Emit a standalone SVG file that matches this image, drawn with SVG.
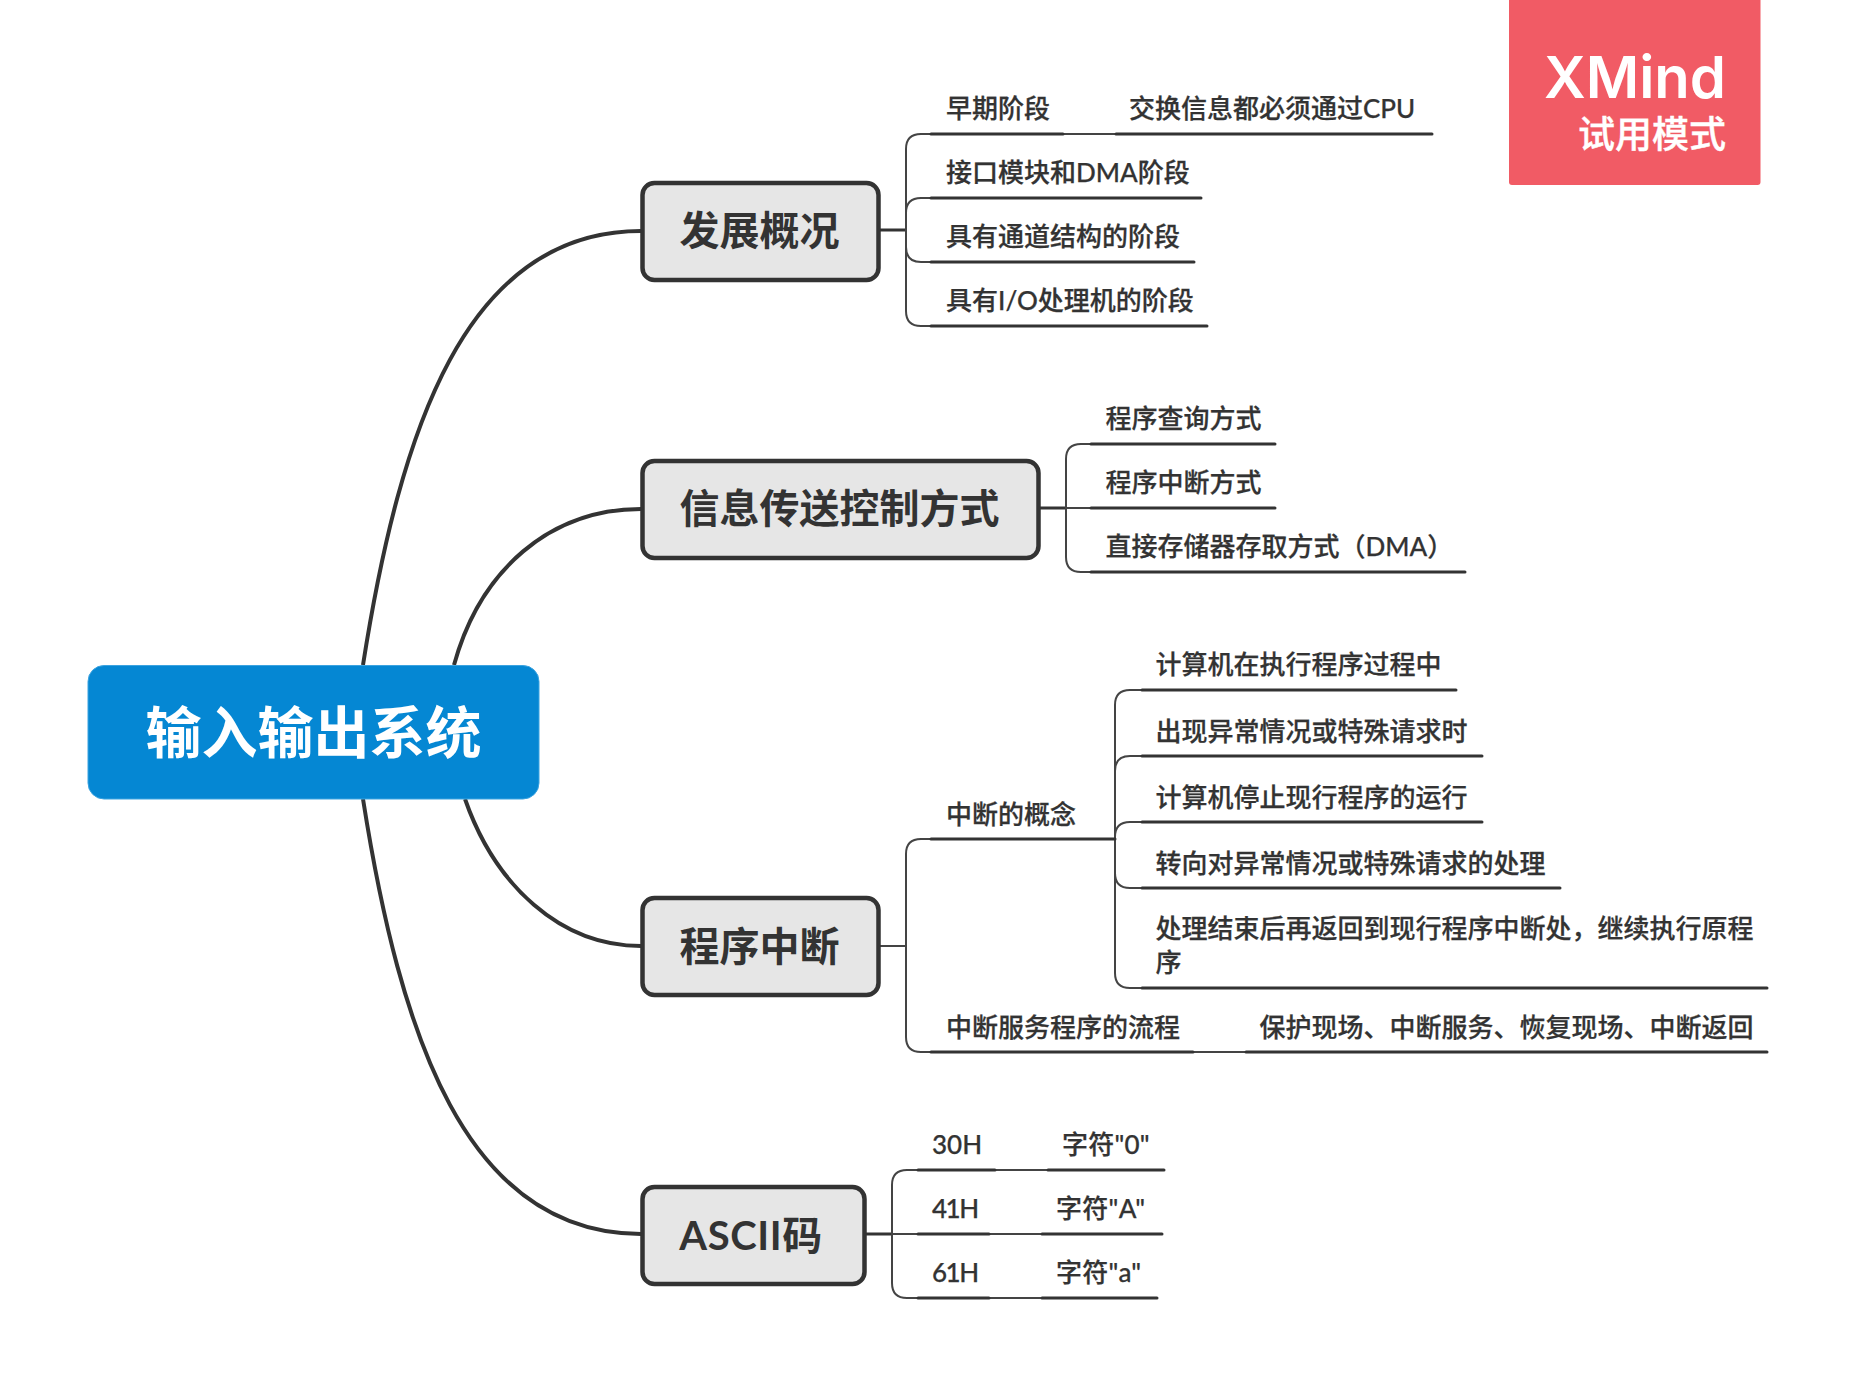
<svg xmlns="http://www.w3.org/2000/svg" width="1855" height="1387" viewBox="0 0 1855 1387">
<style>
text{font-family:"Lato","Noto Sans CJK SC",sans-serif;fill:#333;white-space:pre}
.t{font-size:26px;font-weight:500;stroke:#333;stroke-width:.25px}
.m{font-size:40px;font-weight:700;text-anchor:middle}
.box{fill:#e6e6e6;stroke:#333;stroke-width:4.500px}
.curve{fill:none;stroke:#333;stroke-width:4}
.br{fill:none;stroke:#444;stroke-width:2}
.stem{fill:none;stroke:#333;stroke-width:3}
.ul{fill:none;stroke:#333;stroke-width:3;stroke-linecap:round}
</style>
<rect width="1855" height="1387" fill="#fff"/>
<g id="connectors">
<path class="curve" d="M363 665C400 430 465 231 641 231"/>
<path class="curve" d="M454 665C480 570 550 509 641 509"/>
<path class="curve" d="M465 799C495 885 560 946 641 946"/>
<path class="curve" d="M363 799C400 1034 465 1234 641 1234"/>
<path class="stem" d="M880 230H906M1040 508H1066M866 1234H892"/>
<path class="br" d="M880 946H906"/>
<path class="br" d="M931 134H921Q906 134 906 149V311Q906 326 921 326H931M906 230V213Q906 198 921 198H931M906 230V247Q906 262 921 262H931"/>
<path class="br" d="M1091 444H1081Q1066 444 1066 459V557Q1066 572 1081 572H1091M1066 508H1091"/>
<path class="br" d="M931 839H921Q906 839 906 854V1037Q906 1052 921 1052H931"/>
<path class="br" d="M1142 690H1130Q1115 690 1115 705V973Q1115 988 1130 988H1142M1115 839V771Q1115 756 1130 756H1142M1115 839V837Q1115 822 1130 822H1142M1115 839V873Q1115 888 1130 888H1142"/>
<path class="br" d="M918 1170H907Q892 1170 892 1185V1283Q892 1298 907 1298H918M892 1234H918"/>
<path class="br" d="M1063 134H1116M1193 1052H1246M995 1170H1048M989 1234H1042M989 1298H1042"/>
<path class="ul" d="M1116 134H1432M1246 1052H1767M1048 1170H1164M1042 1234H1162M1042 1298H1157"/>
</g>
<g id="root"><rect x="88" y="665.500" width="451" height="133.500" rx="16" fill="#0587d3" stroke="#3ba3e0" stroke-width="1"/><text x="313.500" y="753" style="font-size:56px;font-weight:700;text-anchor:middle;fill:#fff">输入输出系统</text></g>
<g id="n1"><rect class="box" x="642.500" y="183" width="236" height="97" rx="12"/><text class="m" x="759.500" y="245">发展概况</text></g>
<g id="n1a"><path class="ul" d="M931 134H1063"/><text class="t" x="946" y="118">早期阶段</text></g>
<g id="n1a1"><text class="t" x="1129" y="118">交换信息都必须通过CPU</text></g>
<g id="n1b"><path class="ul" d="M931 198H1201"/><text class="t" x="946" y="182">接口模块和DMA阶段</text></g>
<g id="n1c"><path class="ul" d="M931 262H1194"/><text class="t" x="946" y="246">具有通道结构的阶段</text></g>
<g id="n1d"><path class="ul" d="M931 326H1207"/><text class="t" x="946" y="310">具有I/O处理机的阶段</text></g>
<g id="n2"><rect class="box" x="642.500" y="461" width="396" height="97" rx="12"/><text class="m" x="839.500" y="523">信息传送控制方式</text></g>
<g id="n2a"><path class="ul" d="M1091 444H1275"/><text class="t" x="1105.500" y="428">程序查询方式</text></g>
<g id="n2b"><path class="ul" d="M1091 508H1275"/><text class="t" x="1105.500" y="492">程序中断方式</text></g>
<g id="n2c"><path class="ul" d="M1091 572H1465"/><text class="t" x="1105.500" y="556">直接存储器存取方式（DMA）</text></g>
<g id="n3"><rect class="box" x="642.500" y="898" width="236" height="97" rx="12"/><text class="m" x="759.500" y="961">程序中断</text></g>
<g id="n3a"><path class="ul" d="M931 839H1115"/><text class="t" x="946" y="823.500">中断的概念</text></g>
<g id="n3a1"><path class="ul" d="M1142 690H1456"/><text class="t" x="1155.500" y="674">计算机在执行程序过程中</text></g>
<g id="n3a2"><path class="ul" d="M1142 756H1482"/><text class="t" x="1155.500" y="740.500">出现异常情况或特殊请求时</text></g>
<g id="n3a3"><path class="ul" d="M1142 822H1482"/><text class="t" x="1155.500" y="806.500">计算机停止现行程序的运行</text></g>
<g id="n3a4"><path class="ul" d="M1142 888H1560"/><text class="t" x="1155.500" y="872.500">转向对异常情况或特殊请求的处理</text></g>
<g id="n3a5"><path class="ul" d="M1142 988H1767"/><text class="t" x="1155.500" y="938">处理结束后再返回到现行程序中断处，继续执行原程</text><text class="t" x="1155.500" y="972">序</text></g>
<g id="n3b"><path class="ul" d="M931 1052H1193"/><text class="t" x="946" y="1036.500">中断服务程序的流程</text></g>
<g id="n3b1"><text class="t" x="1259.500" y="1036.500">保护现场、中断服务、恢复现场、中断返回</text></g>
<g id="n4"><rect class="box" x="642.500" y="1187" width="222" height="97" rx="12"/><text class="m" x="751" y="1250" style="letter-spacing:.6px">ASCII码</text></g>
<g id="n4a"><path class="ul" d="M918 1170H995"/><text class="t" x="932" y="1154">30H</text></g>
<g id="n4a1"><text class="t" x="1062" y="1154" style="letter-spacing:.2px">字符"0"</text></g>
<g id="n4b"><path class="ul" d="M918 1234H989"/><text class="t" x="932" y="1218" style="letter-spacing:-1.5px">41H</text></g>
<g id="n4b1"><text class="t" x="1056" y="1218" style="letter-spacing:.3px">字符"A"</text></g>
<g id="n4c"><path class="ul" d="M918 1298H989"/><text class="t" x="932" y="1282" style="letter-spacing:-1.5px">61H</text></g>
<g id="n4c1"><text class="t" x="1056" y="1282" style="letter-spacing:.2px">字符"a"</text></g>
<g id="badge"><rect x="1509" y="-3" width="251.500" height="188" rx="3" fill="#f15b65"/><text x="1726" y="98" style="font-family:Inter,sans-serif;font-size:58px;font-weight:600;text-anchor:end;fill:#fff">XMind</text><text x="1726" y="148" style="font-size:37px;font-weight:500;text-anchor:end;fill:#fff;stroke:#fff;stroke-width:.4px">试用模式</text></g>
</svg>
